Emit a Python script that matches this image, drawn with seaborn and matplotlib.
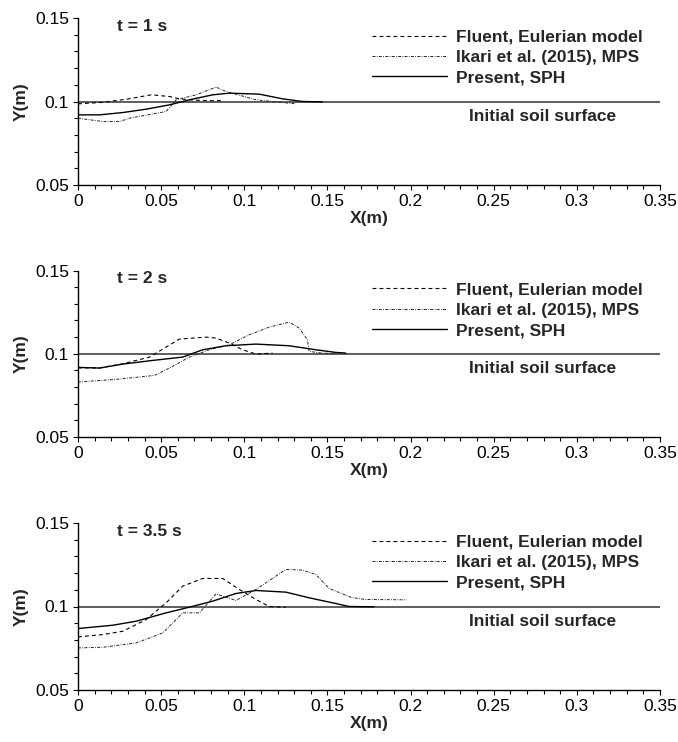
import numpy as np
import pandas as pd
import seaborn as sns
import matplotlib
matplotlib.use("Agg")
import matplotlib.pyplot as plt
from matplotlib.ticker import MultipleLocator, FuncFormatter

# ---------------- data ----------------
panel_titles = ["t = 1 s", "t = 2 s", "t = 3.5 s"]
series_labels = ["Fluent, Eulerian model", "Ikari et al. (2015), MPS", "Present, SPH"]

# t = 1 s
fluent_1_x = [0.0, 0.015, 0.03, 0.044, 0.055, 0.061, 0.070, 0.080, 0.087]
fluent_1_y = [0.0986, 0.0995, 0.1015, 0.1040, 0.1030, 0.1016, 0.1008, 0.1005, 0.1005]
ikari_1_x = [0.0, 0.015, 0.025, 0.031, 0.053, 0.059, 0.071, 0.083, 0.089, 0.107, 0.131]
ikari_1_y = [0.0900, 0.0880, 0.0880, 0.0900, 0.0940, 0.1010, 0.1040, 0.1086, 0.1060, 0.1010, 0.0986]
sph_1_x = [0.0, 0.013, 0.027, 0.041, 0.055, 0.067, 0.081, 0.091, 0.109, 0.123, 0.135, 0.147]
sph_1_y = [0.0920, 0.0920, 0.0934, 0.0954, 0.0980, 0.1010, 0.1040, 0.1050, 0.1044, 0.1016, 0.1000, 0.0998]

# t = 2 s
fluent_2_x = [0.0, 0.013, 0.027, 0.043, 0.061, 0.077, 0.083, 0.091, 0.099, 0.107, 0.117]
fluent_2_y = [0.0915, 0.0915, 0.0940, 0.0980, 0.1088, 0.1100, 0.1094, 0.1064, 0.1024, 0.0998, 0.1004]
ikari_2_x = [0.0, 0.025, 0.046, 0.055, 0.067, 0.079, 0.091, 0.103, 0.115, 0.127, 0.133, 0.138, 0.139, 0.147, 0.155]
ikari_2_y = [0.0830, 0.0848, 0.0870, 0.0914, 0.0980, 0.1024, 0.1054, 0.1114, 0.1160, 0.1190, 0.1154, 0.1084, 0.1014, 0.1004, 0.1000]
sph_2_x = [0.0, 0.013, 0.027, 0.045, 0.063, 0.075, 0.089, 0.107, 0.127, 0.143, 0.155, 0.161]
sph_2_y = [0.0918, 0.0914, 0.0938, 0.0960, 0.0980, 0.1024, 0.1048, 0.1058, 0.1048, 0.1024, 0.1008, 0.1004]

# t = 3.5 s
fluent_3_x = [0.0, 0.015, 0.027, 0.041, 0.053, 0.063, 0.075, 0.087, 0.097, 0.107, 0.115, 0.125]
fluent_3_y = [0.0818, 0.0832, 0.0852, 0.0922, 0.1022, 0.1122, 0.1168, 0.1168, 0.1102, 0.1042, 0.1000, 0.0996]
ikari_3_x = [0.0, 0.015, 0.035, 0.051, 0.063, 0.073, 0.083, 0.095, 0.107, 0.125, 0.135, 0.143, 0.151, 0.1645, 0.173, 0.1975]
ikari_3_y = [0.0752, 0.0756, 0.0782, 0.0842, 0.0962, 0.0962, 0.1076, 0.1036, 0.1102, 0.1222, 0.1218, 0.1192, 0.1108, 0.1054, 0.1042, 0.1040]
sph_3_x = [0.0, 0.021, 0.035, 0.053, 0.067, 0.081, 0.095, 0.107, 0.125, 0.139, 0.155, 0.163, 0.178]
sph_3_y = [0.0868, 0.0888, 0.0912, 0.0962, 0.0996, 0.1032, 0.1078, 0.1096, 0.1086, 0.1052, 0.1018, 0.1000, 0.0998]

initial_x = [0.0, 0.35]
initial_y = [0.1, 0.1]
initial_label = "Initial soil surface"

x_ticks = [0, 0.05, 0.1, 0.15, 0.2, 0.25, 0.3, 0.35]
y_ticks = [0.05, 0.1, 0.15]

panels = [
    [(fluent_1_x, fluent_1_y), (ikari_1_x, ikari_1_y), (sph_1_x, sph_1_y)],
    [(fluent_2_x, fluent_2_y), (ikari_2_x, ikari_2_y), (sph_2_x, sph_2_y)],
    [(fluent_3_x, fluent_3_y), (ikari_3_x, ikari_3_y), (sph_3_x, sph_3_y)],
]

# ---------------- style ----------------
sns.set_theme(style="ticks")
plt.rcParams["font.family"] = ["Liberation Sans", "DejaVu Sans"]

FS = 12.5
styles = [
    dict(color="black", lw=0.8, ls=(0, (3.5, 2.8))),
    dict(color="#222222", lw=0.7, ls=(0, (3.0, 1.4, 0.8, 1.4))),
    dict(color="black", lw=1.0, ls="-"),
]

fig = plt.figure(figsize=(6.78, 7.42), dpi=100)
W, H = 678, 742
LEFT, RIGHT = 78, 660
axes_px = [(18, 185), (270.5, 437), (523, 690)]

for (top, bot), title, series in zip(axes_px, panel_titles, panels):
    ax = fig.add_axes([LEFT / W, 1 - bot / H, (RIGHT - LEFT) / W, (bot - top) / H])
    sns.lineplot(x=initial_x, y=initial_y, ax=ax, color="#333333", lw=1.1,
                 estimator=None, sort=False)
    for (xs, ys), lab, st in zip(series, series_labels, styles):
        df = pd.DataFrame({"x": xs, "y": ys})
        sns.lineplot(data=df, x="x", y="y", ax=ax, estimator=None, sort=False,
                     color=st["color"], lw=st["lw"], linestyle=st["ls"], label=lab)
    ax.set_xlim(0, 0.35)
    ax.set_ylim(0.05, 0.15)
    ax.set_xticks(x_ticks)
    ax.set_yticks(y_ticks)
    ax.xaxis.set_minor_locator(MultipleLocator(0.01))
    ax.yaxis.set_minor_locator(MultipleLocator(0.01))
    fmt = FuncFormatter(lambda v, p: "%g" % round(v, 3))
    ax.xaxis.set_major_formatter(fmt)
    ax.yaxis.set_major_formatter(fmt)
    ax.tick_params(which="major", direction="out", length=3.5, width=0.8,
                   labelsize=FS, colors="black", pad=3)
    ax.tick_params(which="minor", direction="out", length=3, width=0.8, colors="black")
    sns.despine(ax=ax)
    for sp in ["left", "bottom"]:
        ax.spines[sp].set_color("black")
        ax.spines[sp].set_linewidth(1.0)
    ax.set_xlabel("X(m)", fontsize=FS, fontweight="bold")
    ax.set_ylabel("Y(m)", fontsize=FS, fontweight="bold")
    ax.xaxis.set_label_coords(0.5, -0.155)
    ax.yaxis.set_label_coords(-0.085, 0.5)
    ax.text(0.067, 0.952, title, transform=ax.transAxes, fontsize=FS,
            fontweight="bold", ha="left", va="center")
    ax.text(0.672, 0.413, initial_label, transform=ax.transAxes, fontsize=FS,
            fontweight="bold", ha="left", va="center")
    leg = ax.legend(loc="upper left", bbox_to_anchor=(0.505, 0.930), frameon=False,
                    handlelength=4.3, handletextpad=0.57, labelspacing=0.3,
                    borderpad=0, borderaxespad=0,
                    prop=dict(size=FS, weight="bold"))
    ax.set_facecolor("white")

fig.savefig("out.png", dpi=100, facecolor="white")
